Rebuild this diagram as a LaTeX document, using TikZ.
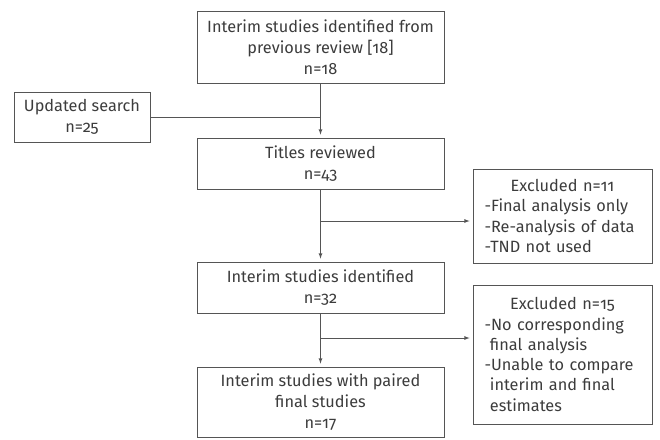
\documentclass[tikz,border=0pt]{standalone}
\usepackage{fontspec}
\setmainfont{Fira Sans}[Numbers=OldStyle]
\usetikzlibrary{arrows}
\definecolor{txtgray}{HTML}{3C3C3C}
\definecolor{linegray}{HTML}{555555}

\begin{document}
\begin{tikzpicture}[x=1pt,y=-1pt,
  box/.style={draw=linegray,line width=0.8pt,text=txtgray,align=center,inner sep=0pt,
    minimum width=247pt,font=\fontsize{16.3}{21}\selectfont},
  exbox/.style={box,minimum width=179pt,text width=156pt,align=left,font=\fontsize{16.3}{20.3}\selectfont},
  arr/.style={-latex,draw=linegray,line width=0.8pt,shorten >=3pt}]
\useasboundingbox (0,0) rectangle (660,439);
% main column
\node[box,minimum height=72pt] (prev) at (320.5,47) {Interim studies identified from\\previous review [18]\\n=18};
\node[box,minimum width=136pt,minimum height=50pt] (upd) at (82,117) {Updated search\\n=25};
\node[box,minimum height=51pt] (titles) at (320.5,163.5) {Titles reviewed\\n=43};
\node[box,minimum height=51pt] (interim) at (320.5,287.5) {Interim studies identified\\n=32};
\node[box,minimum height=70pt] (final) at (320.5,402) {Interim studies with paired\\final studies\\n=17};
% excluded boxes
\node[exbox,minimum height=94pt] (exc1) at (562.5,216) {\makebox[\hsize]{Excluded n=11}\\-Final analysis only\\-Re-analysis of data\\-TND not used};
\node[exbox,minimum height=139pt] (exc2) at (562.5,354.5) {\makebox[\hsize]{Excluded n=15}\\-No corresponding\\\ final analysis\\-Unable to compare\\\ interim and final\\\ estimates};
% connectors
\draw[arr] (prev) -- (titles);
\draw[linegray,line width=0.8pt] (upd.east) -- (upd.east -| prev.south);
\draw[arr] (titles) -- (interim);
\draw[arr] (interim) -- (final);
\coordinate (b1) at (320.5,221);
\coordinate (b2) at (320.5,338);
\draw[arr] (b1) -- (b1 -| exc1.west);
\draw[arr] (b2) -- (b2 -| exc2.west);
\end{tikzpicture}
\end{document}
